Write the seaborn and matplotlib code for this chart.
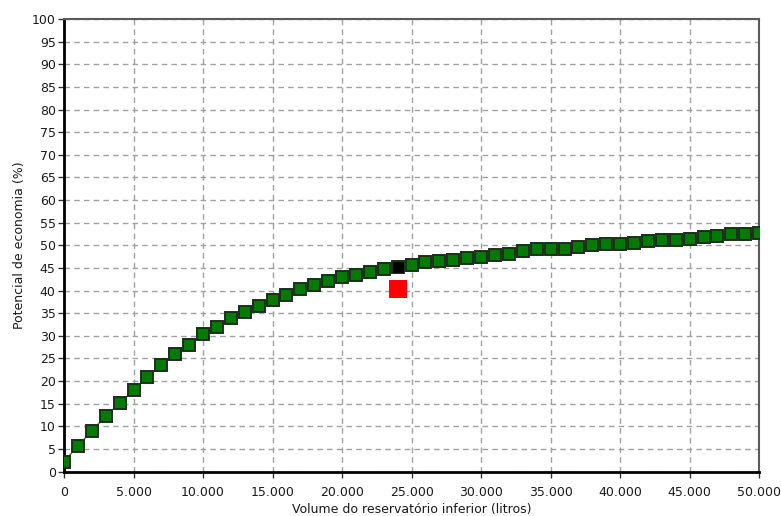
import pandas as pd
import matplotlib
matplotlib.use("Agg")
import matplotlib.pyplot as plt
import seaborn as sns
from matplotlib.ticker import MultipleLocator, FuncFormatter

# --- values ---
volumes = [0, 1000, 2000, 3000, 4000, 5000, 6000, 7000, 8000, 9000,
           10000, 11000, 12000, 13000, 14000, 15000, 16000, 17000, 18000, 19000,
           20000, 21000, 22000, 23000, 24000, 25000, 26000, 27000, 28000, 29000,
           30000, 31000, 32000, 33000, 34000, 35000, 36000, 37000, 38000, 39000,
           40000, 41000, 42000, 43000, 44000, 45000, 46000, 47000, 48000, 49000,
           50000]
economia = [2.2, 5.7, 9.0, 12.3, 15.1, 18.0, 21.0, 23.6, 26.0, 28.0,
            30.4, 32.0, 33.9, 35.3, 36.7, 38.0, 39.1, 40.3, 41.2, 42.1,
            42.9, 43.5, 44.1, 44.7, 45.2, 45.6, 46.3, 46.5, 46.8, 47.2,
            47.5, 47.8, 48.2, 48.8, 49.1, 49.3, 49.3, 49.6, 50.0, 50.3,
            50.2, 50.6, 50.9, 51.2, 51.2, 51.5, 51.8, 52.1, 52.4, 52.4,
            52.7]

# selected volume (black) and the reference point (red)
sel_volume = [24000]
sel_economia = [45.2]
ref_volume = [24000]
ref_economia = [40.3]

df = pd.DataFrame({"volume": volumes, "economia": economia})
df_sel = pd.DataFrame({"volume": sel_volume, "economia": sel_economia})
df_ref = pd.DataFrame({"volume": ref_volume, "economia": ref_economia})


def thousands(v, pos):
    return f"{v:,.0f}".replace(",", ".")


sns.set_style("white")
plt.rcParams["font.family"] = ["DejaVu Sans"]

fig = plt.figure(figsize=(7.81, 5.16), dpi=100)
ax = fig.add_axes([0.082, 0.086, 0.890, 0.877])

# grid first so markers sit on top
ax.set_axisbelow(True)
ax.grid(True, color="#a0a0a0", linestyle=(0, (4, 3)), linewidth=1)

sns.lineplot(data=df, x="volume", y="economia", ax=ax, color="#2e7d2e",
             linewidth=1, marker="s", markersize=8.3, markerfacecolor="#007a00",
             markeredgecolor="#1c2e1c", markeredgewidth=1.4, zorder=3)
sns.scatterplot(data=df_sel, x="volume", y="economia", ax=ax, marker="s",
                s=55, color="black", edgecolor="black", linewidth=0.5, zorder=4)
sns.scatterplot(data=df_ref, x="volume", y="economia", ax=ax, marker="s",
                s=150, color="#ff0000", edgecolor="#ff0000", linewidth=0, zorder=4)

ax.set_xlim(0, 50000)
ax.set_ylim(0, 100)
ax.xaxis.set_major_locator(MultipleLocator(5000))
ax.xaxis.set_minor_locator(MultipleLocator(1250))
ax.xaxis.set_major_formatter(FuncFormatter(thousands))
ax.yaxis.set_major_locator(MultipleLocator(5))
ax.yaxis.set_minor_locator(MultipleLocator(1))

ax.tick_params(axis="both", which="major", direction="out", length=4,
               width=1, color="#333333", labelsize=9, labelcolor="#1a1a1a", pad=2)
ax.tick_params(axis="x", which="major", pad=6)
ax.tick_params(axis="both", which="minor", direction="out", length=2,
               width=0.8, color="#333333")
ax.tick_params(axis="y", which="minor", length=0)
ax.tick_params(left=True, bottom=True)

for side in ["left", "bottom"]:
    ax.spines[side].set_color("black")
    ax.spines[side].set_linewidth(2)
for side in ["top", "right"]:
    ax.spines[side].set_color("#5a5a5a")
    ax.spines[side].set_linewidth(1.5)

ax.set_xlabel("Volume do reservatório inferior (litros)", fontsize=9,
              color="#1a1a1a", labelpad=3)
ax.set_ylabel("Potencial de economia (%)", fontsize=9, color="#1a1a1a",
              labelpad=4)

# let the last x tick label run past the axes like the original
for lbl in ax.get_xticklabels():
    lbl.set_clip_on(False)

fig.savefig("out.png", dpi=100, facecolor="white")
